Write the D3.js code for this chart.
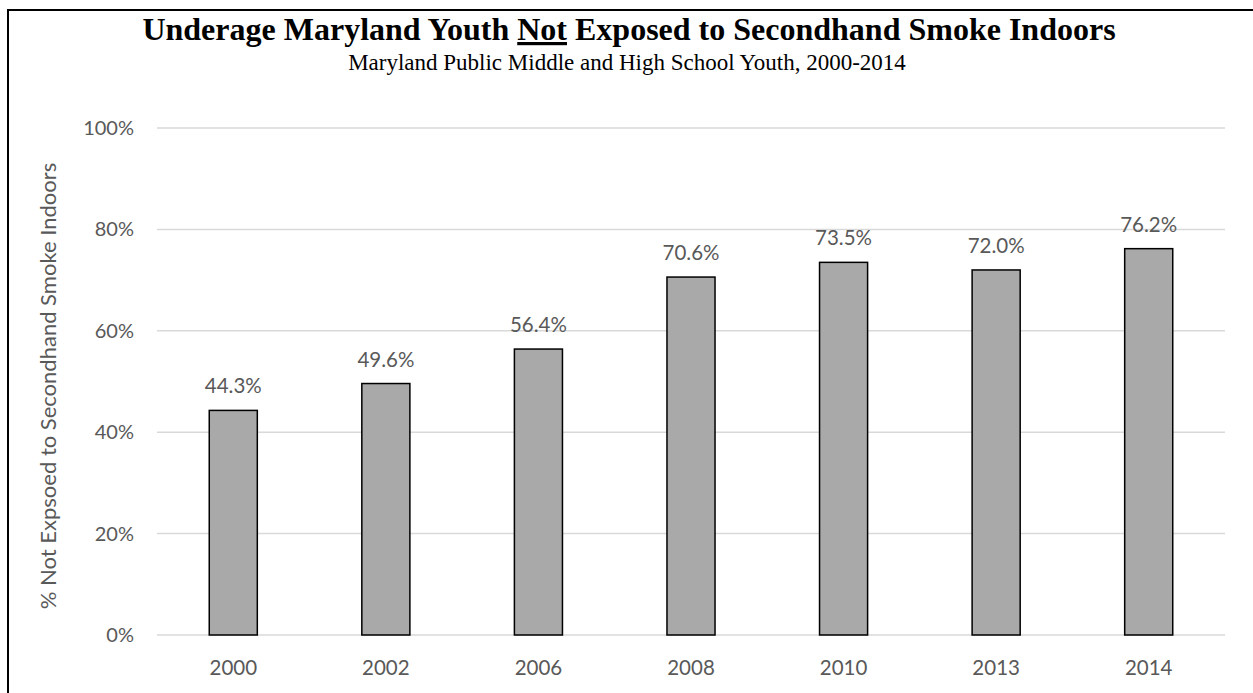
<!DOCTYPE html>
<html>
<head>
<meta charset="utf-8">
<script src="https://cdn.jsdelivr.net/npm/d3@7"></script>
<style>
  body { margin: 0; background: #fff; }
</style>
</head>
<body>
<div id="chart"></div>
<script>
const years = ["2000", "2002", "2006", "2008", "2010", "2013", "2014"];
const notExposed = [44.3, 49.6, 56.4, 70.6, 73.5, 72.0, 76.2];
const yTicks = [0, 20, 40, 60, 80, 100];

const width = 1253;
const height = 693;
const barFill = "#a9a9a9";
const gridColor = "#d9d9d9";
const textGray = "#595959";
const sans = "Lato, 'Open Sans', sans-serif";
const serif = "'Liberation Serif', 'Times New Roman', serif";

const svg = d3.select("#chart").append("svg")
  .attr("width", width)
  .attr("height", height);

// outer frame (runs off the right and bottom edge)
svg.append("rect")
  .attr("x", 8).attr("y", 10)
  .attr("width", width + 20).attr("height", height + 20)
  .attr("fill", "none")
  .attr("stroke", "black")
  .attr("stroke-width", 2);

const x = d3.scaleBand()
  .domain(years)
  .range([157, 1225])
  .paddingInner(0.685)
  .paddingOuter(0.3425);

const y = d3.scaleLinear()
  .domain([0, 100])
  .range([635, 128]);

// gridlines
svg.append("g")
  .selectAll("line")
  .data(yTicks)
  .join("line")
  .attr("x1", 157).attr("x2", 1225)
  .attr("y1", d => y(d)).attr("y2", d => y(d))
  .attr("stroke", gridColor)
  .attr("stroke-width", 1.5);

// y tick labels
const yAxis = svg.append("g")
  .attr("transform", "translate(157,0)")
  .call(d3.axisLeft(y).tickValues(yTicks).tickFormat(d => d + "%").tickSize(0).tickPadding(23));
yAxis.select(".domain").remove();
yAxis.selectAll("text")
  .attr("fill", textGray)
  .attr("font-family", sans)
  .attr("font-size", "20px");

// x tick labels
const xAxis = svg.append("g")
  .attr("transform", "translate(0,635)")
  .call(d3.axisBottom(x).tickSize(0).tickPadding(25));
xAxis.select(".domain").remove();
xAxis.selectAll("text")
  .attr("fill", textGray)
  .attr("font-family", sans)
  .attr("font-size", "20.5px");

// bars
svg.append("g")
  .selectAll("rect")
  .data(notExposed)
  .join("rect")
  .attr("x", (d, i) => x(years[i]))
  .attr("y", d => y(d))
  .attr("width", x.bandwidth())
  .attr("height", d => y(0) - y(d))
  .attr("fill", barFill)
  .attr("stroke", "black")
  .attr("stroke-width", 1.5);

// value labels
svg.append("g")
  .selectAll("text")
  .data(notExposed)
  .join("text")
  .attr("x", (d, i) => x(years[i]) + x.bandwidth() / 2)
  .attr("y", d => y(d) - 17)
  .attr("text-anchor", "middle")
  .attr("fill", textGray)
  .attr("font-family", sans)
  .attr("font-size", "20.5px")
  .text(d => d.toFixed(1) + "%");

// y axis title
svg.append("text")
  .attr("transform", "translate(56,386) rotate(-90)")
  .attr("text-anchor", "middle")
  .attr("fill", textGray)
  .attr("font-family", sans)
  .attr("font-size", "22px")
  .text("% Not Expsoed to Secondhand Smoke Indoors");

// title
const title = svg.append("text")
  .attr("x", 629).attr("y", 40)
  .attr("text-anchor", "middle")
  .attr("font-family", serif)
  .attr("font-weight", "bold")
  .attr("font-size", "32px")
  .attr("fill", "black");
title.append("tspan").text("Underage Maryland Youth ");
title.append("tspan").attr("text-decoration", "underline").text("Not");
title.append("tspan").text(" Exposed to Secondhand Smoke Indoors");

svg.append("text")
  .attr("x", 627).attr("y", 70)
  .attr("text-anchor", "middle")
  .attr("font-family", serif)
  .attr("font-size", "23px")
  .attr("fill", "black")
  .text("Maryland Public Middle and High School Youth, 2000-2014");
</script>
</body>
</html>
